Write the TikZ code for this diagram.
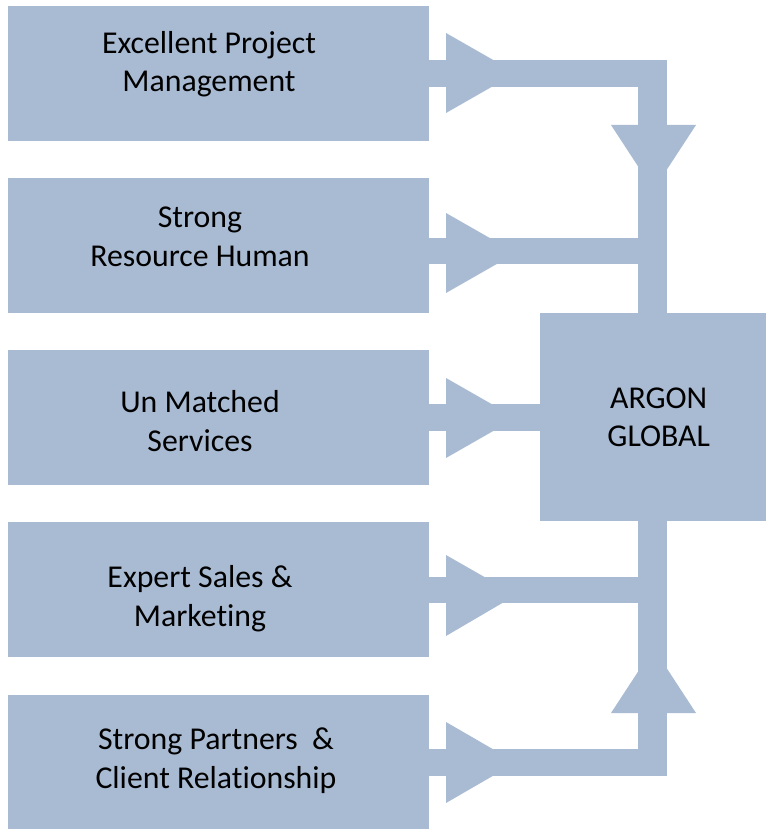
\documentclass[tikz,border=0pt]{standalone}
\usepackage{fontspec}
\setmainfont{Carlito}[Ligatures={NoCommon}]
\definecolor{blu}{RGB}{169,187,211}
\newcommand\lblfont{\fontsize{31.8}{38.5}\selectfont}
\newcommand\nolig{\kern0pt\relax}
\tikzset{
  box/.style={fill=blu, inner sep=0pt, outer sep=0pt, minimum width=421pt, minimum height=135pt, anchor=north west},
  lbl/.style={font=\lblfont, align=center, text=black, inner sep=0pt, anchor=base},
  flow/.style={fill=blu},
}
\begin{document}
\begin{tikzpicture}[x=1pt,y=-1pt]
\useasboundingbox (0,0) rectangle (765,829);
% boxes
\node[box] (b1) at (8,5.7) {};
\node[box] (b2) at (8,177.9) {};
\node[box] (b3) at (8,350.1) {};
\node[box] (b4) at (8,522.3) {};
\node[box] (b5) at (8,694.5) {};
% vertical trunk
\fill[flow] (638,60) rectangle (667,775);
\fill[flow] (611,125) -- (696,125) -- (653.5,190) -- cycle;
\fill[flow] (611,713) -- (696,713) -- (653.5,648) -- cycle;
% central box
\node[fill=blu, inner sep=0pt, minimum width=237pt, minimum height=208pt, anchor=north west,
      font=\lblfont, align=center] (ag) at (540,313) {ARGON\\GLOBAL};
% horizontal bars
\fill[flow] (b1.east |- 0,60) rectangle (667,86.7);
\fill[flow] (b2.east |- 0,237.7) rectangle (652,264.3);
\fill[flow] (b3.east |- 0,404) rectangle (ag.west |- 0,431);
\fill[flow] (b4.east |- 0,577) rectangle (652,603.3);
\fill[flow] (b5.east |- 0,749) rectangle (667,775.5);
% arrow heads
\fill[flow] (446,33) -- (516,73) -- (446,113) -- cycle;
\fill[flow] (446,213) -- (516,253) -- (446,293) -- cycle;
\fill[flow] (446,378) -- (516,418) -- (446,458) -- cycle;
\fill[flow] (446,555) -- (516,595) -- (446,636) -- cycle;
\fill[flow] (446,722) -- (516,762.5) -- (446,803) -- cycle;
% labels (anchor = baseline of last line)
\node[lbl] (t1) at (209,91.7) {Excellent Project\\Management};
\node[lbl] (t2) at (200,266) {Strong\\Resource Human};
\node[lbl] (t3) at (200,451) {Un Matched\\Services};
\node[lbl] (t4) at (200,626) {Expert Sales \&\\Market\nolig ing};
\node[lbl] (t5) at (216,788.3) {Strong Partners~ \&\\Client Relat\nolig ionship};
\end{tikzpicture}
\end{document}
